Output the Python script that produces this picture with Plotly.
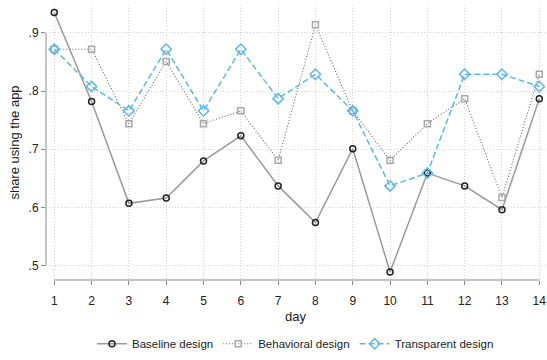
import plotly.graph_objects as go

days = list(range(1, 15))
baseline = [0.935, 0.782, 0.607, 0.616, 0.680, 0.723, 0.637, 0.574, 0.701, 0.489, 0.659, 0.637, 0.596, 0.787]
behavioral = [0.872, 0.872, 0.744, 0.851, 0.744, 0.766, 0.681, 0.914, 0.766, 0.681, 0.744, 0.787, 0.617, 0.829]
transparent = [0.872, 0.808, 0.766, 0.872, 0.766, 0.872, 0.787, 0.829, 0.766, 0.637, 0.659, 0.829, 0.829, 0.808]
yticks = [0.5, 0.6, 0.7, 0.8, 0.9]
ytick_labels = [".5", ".6", ".7", ".8", ".9"]

font = "Liberation Sans, Arial, sans-serif"
fig = go.Figure()
fig.add_trace(go.Scatter(
    x=days, y=baseline, name="Baseline design", mode="lines+markers",
    line=dict(color="#9a9a9a", width=1.5),
    marker=dict(symbol="circle-open", size=6, color="#222222", line=dict(width=1.5))))
fig.add_trace(go.Scatter(
    x=days, y=behavioral, name="Behavioral design", mode="lines+markers",
    line=dict(color="#666666", width=1.1, dash="1px,2px"),
    marker=dict(symbol="square-open", size=6, color="#a8a8a8", line=dict(width=1.5))))
fig.add_trace(go.Scatter(
    x=days, y=transparent, name="Transparent design", mode="lines+markers",
    line=dict(color="#5bb8ea", width=1.5, dash="6px,3px"),
    marker=dict(symbol="diamond-open", size=8, color="#5bb8ea", line=dict(width=1.5))))

grid = "#d4d4d4"
fig.update_layout(
    width=547, height=360,
    margin=dict(l=46, r=2, t=5, b=75),
    paper_bgcolor="white", plot_bgcolor="white",
    font=dict(family=font, size=12, color="#333333"),
    showlegend=True,
    legend=dict(orientation="h", x=0.5, xanchor="center", y=-0.232, yanchor="middle",
                font=dict(size=11.5, color="#222222"), itemwidth=30),
    xaxis=dict(range=[0.778, 14.153], tickmode="array", tickvals=days,
               ticks="outside", ticklen=4, tickcolor="#888888", ticklabelstandoff=6,
               showline=False, zeroline=False, automargin=False,
               showgrid=True, gridcolor=grid, griddash="1px,2px", gridwidth=1,
               tickfont=dict(size=12, color="#222222"),
               title=dict(text="day", font=dict(size=13, color="#222222"), standoff=4)),
    yaxis=dict(range=[0.4752, 0.948], tickmode="array", tickvals=yticks, ticktext=ytick_labels,
               ticks="outside", ticklen=4, tickcolor="#888888",
               showline=False, zeroline=False, automargin=False,
               showgrid=True, gridcolor=grid, griddash="1px,2px", gridwidth=1,
               tickfont=dict(size=12, color="#222222"),
               title=dict(text="share using the app", font=dict(size=13, color="#222222"), standoff=6)),
)
fig.add_shape(type="line", xref="x", yref="paper", x0=days[0], x1=days[-1], y0=0, y1=0,
              line=dict(color="#888888", width=1))
fig.add_shape(type="line", xref="paper", yref="y", x0=0, x1=0, y0=yticks[0], y1=yticks[-1],
              line=dict(color="#888888", width=1))
fig.write_html("out.html", config={"displayModeBar": False},
               post_script="document.body.style.margin='0px';document.body.style.overflow='hidden';")
